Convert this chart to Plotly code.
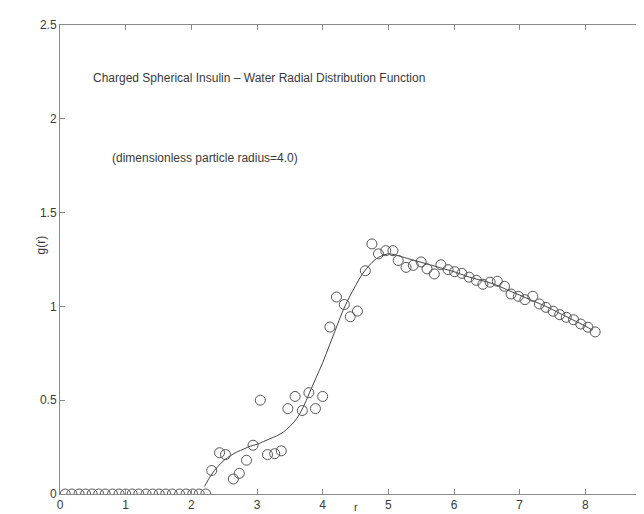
import plotly.graph_objects as go

# Simulation data points (open circles)
r_points = [0.08, 0.18, 0.29, 0.39, 0.49, 0.59, 0.69, 0.80, 0.90, 1.00, 1.10,
            1.20, 1.31, 1.41, 1.51, 1.61, 1.71, 1.82, 1.92, 2.02, 2.12, 2.22,
            2.31, 2.43, 2.52, 2.64, 2.73, 2.84, 2.94, 3.05, 3.16, 3.27, 3.37,
            3.47, 3.58, 3.69, 3.79, 3.89, 4.00, 4.11, 4.21, 4.33, 4.42, 4.53,
            4.65, 4.75, 4.85, 4.96, 5.07, 5.15, 5.27, 5.38, 5.50, 5.59, 5.70,
            5.80, 5.91, 6.01, 6.12, 6.23, 6.34, 6.44, 6.55, 6.66, 6.77, 6.87,
            6.98, 7.08, 7.20, 7.30, 7.40, 7.51, 7.61, 7.71, 7.82, 7.93, 8.04, 8.15]
g_points = [0, 0, 0, 0, 0, 0, 0, 0, 0, 0, 0,
            0, 0, 0, 0, 0, 0, 0, 0, 0, 0, 0,
            0.125, 0.22, 0.21, 0.08, 0.11, 0.18, 0.26, 0.50, 0.21, 0.215, 0.23,
            0.455, 0.52, 0.445, 0.54, 0.455, 0.52, 0.89, 1.05, 1.01, 0.945, 0.975,
            1.19, 1.333, 1.28, 1.297, 1.297, 1.245, 1.208, 1.219, 1.237, 1.20, 1.173,
            1.222, 1.196, 1.185, 1.176, 1.156, 1.139, 1.118, 1.129, 1.134, 1.107, 1.066,
            1.054, 1.036, 1.054, 1.013, 0.995, 0.974, 0.956, 0.942, 0.929, 0.906, 0.889, 0.864]

# Theory curve (solid line)
r_curve = [2.2, 2.3, 2.4, 2.5, 2.6, 2.7, 2.8, 2.9, 3.0, 3.1, 3.2, 3.3, 3.4, 3.5,
           3.6, 3.7, 3.8, 3.9, 4.0, 4.1, 4.2, 4.3, 4.4, 4.5, 4.6, 4.7, 4.8, 4.9,
           5.0, 5.1, 5.2, 5.4, 5.6, 5.8, 6.0, 6.2, 6.4, 6.6, 6.8, 7.0, 7.2, 7.4,
           7.6, 7.8, 8.0, 8.1]
g_curve = [0.04, 0.10, 0.145, 0.18, 0.205, 0.225, 0.24, 0.255, 0.265, 0.28, 0.295,
           0.31, 0.33, 0.36, 0.40, 0.46, 0.54, 0.62, 0.70, 0.79, 0.88, 0.97, 1.045,
           1.11, 1.17, 1.215, 1.25, 1.27, 1.28, 1.275, 1.265, 1.245, 1.225, 1.205,
           1.185, 1.16, 1.14, 1.12, 1.09, 1.06, 1.03, 1.0, 0.965, 0.93, 0.895, 0.875]

x_ticks = [0, 1, 2, 3, 4, 5, 6, 7, 8, 9]
y_ticks = [0, 0.5, 1, 1.5, 2, 2.5]
y_tick_text = ["0", "0.5", "1", "1.5", "2", "2.5"]

FONT = "Liberation Sans, Arial, Helvetica, sans-serif"
TXT = "#3a3a3a"
AX = "#8a8a8a"

fig = go.Figure()
fig.add_trace(go.Scatter(x=r_curve, y=g_curve, mode="lines",
                         line=dict(color="#444444", width=1, shape="spline"),
                         showlegend=False, hoverinfo="skip"))
fig.add_trace(go.Scatter(x=r_points, y=g_points, mode="markers",
                         marker=dict(symbol="circle-open", size=10,
                                     line=dict(color="#555555", width=1),
                                     color="#555555"),
                         showlegend=False))

fig.add_annotation(x=0.47, y=2.22, xref="x", yref="y", xanchor="left", yanchor="middle",
                   text="Charged Spherical Insulin – Water Radial Distribution Function",
                   showarrow=False, font=dict(family=FONT, size=12, color=TXT))
fig.add_annotation(x=0.76, y=1.79, xref="x", yref="y", xanchor="left", yanchor="middle",
                   text="(dimensionless particle radius=4.0)",
                   showarrow=False, font=dict(family=FONT, size=12, color=TXT))
fig.add_annotation(x=-0.032, y=0.53, xref="paper", yref="paper", xanchor="center",
                   yanchor="middle", text="g(r)", textangle=-90, showarrow=False,
                   font=dict(family=FONT, size=12, color=TXT))
fig.add_annotation(x=0.5, y=-0.012, xref="paper", yref="paper", xanchor="center",
                   yanchor="top", text="r", showarrow=False, borderpad=0,
                   font=dict(family=FONT, size=11, color=TXT))

fig.update_layout(
    width=644, height=514,
    margin=dict(l=52, r=1, t=17, b=28, autoexpand=False),
    paper_bgcolor="white", plot_bgcolor="white",
    font=dict(family=FONT, size=12, color=TXT),
    xaxis=dict(range=[0, 9], tickvals=x_ticks, ticktext=[str(v) for v in x_ticks],
               automargin=False,
               showgrid=False, zeroline=False, showline=True, linecolor=AX,
               linewidth=1, mirror="ticks", ticks="inside", ticklen=5,
               tickcolor=AX, tickfont=dict(family=FONT, size=12, color=TXT)),
    yaxis=dict(range=[0, 2.5], tickvals=y_ticks, ticktext=y_tick_text,
               automargin=False,
               showgrid=False, zeroline=False, showline=True, linecolor=AX,
               linewidth=1, mirror="ticks", ticks="inside", ticklen=5,
               tickcolor=AX, tickfont=dict(family=FONT, size=12, color=TXT)),
)

fig.write_html("out.html")
